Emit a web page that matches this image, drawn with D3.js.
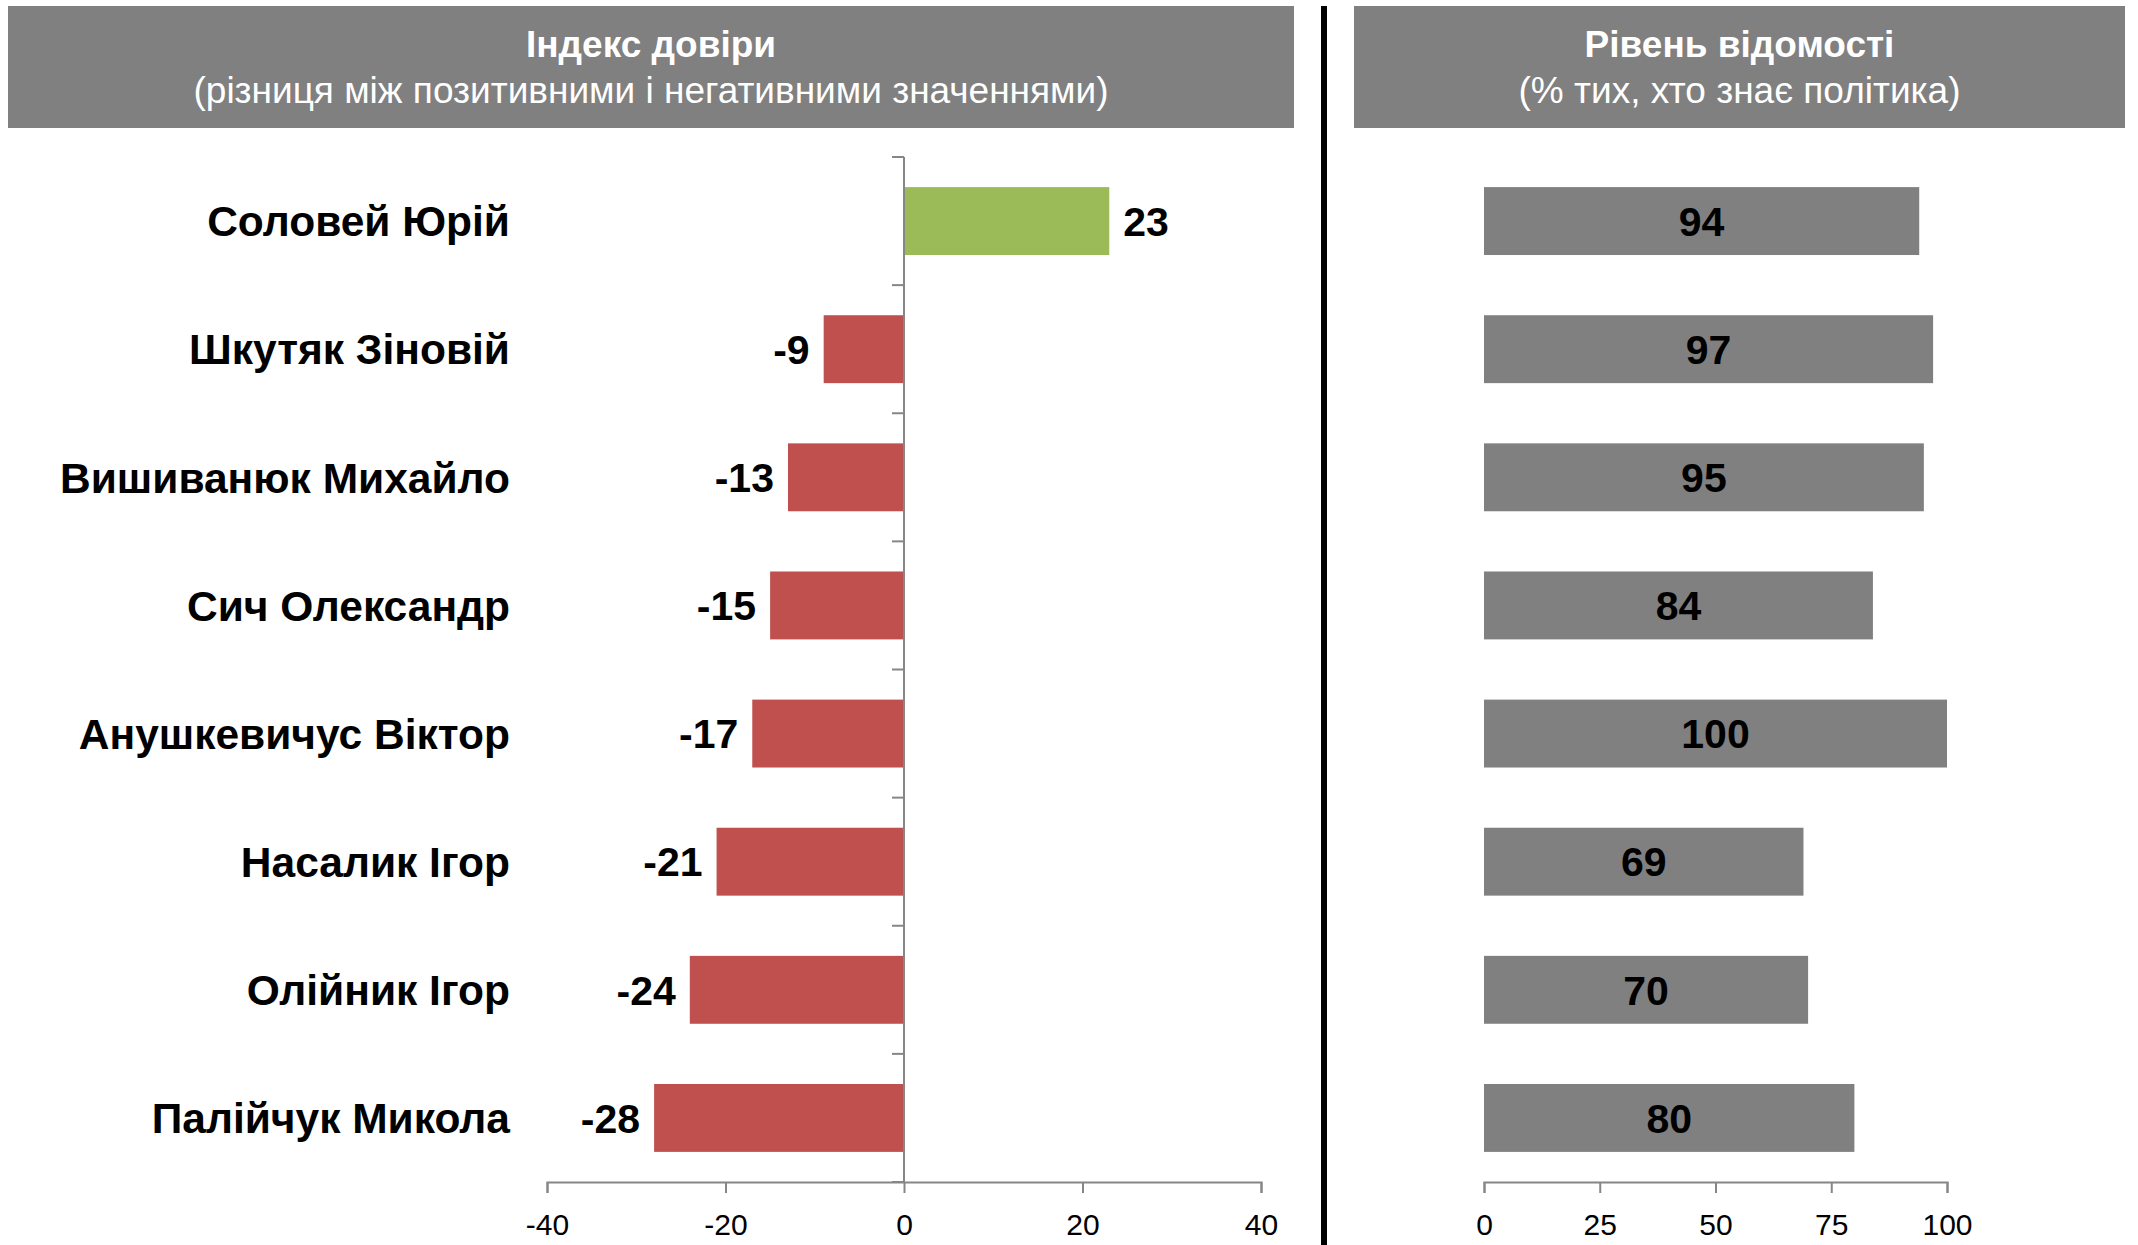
<!DOCTYPE html>
<html>
<head>
<meta charset="utf-8">
<script src="https://cdn.jsdelivr.net/npm/d3@7"></script>
<style>
  html, body { margin: 0; padding: 0; background: #fff; }
  svg { display: block; font-family: "Liberation Sans", Arial, sans-serif; }
</style>
</head>
<body>
<svg id="chart" width="2138" height="1245"></svg>
<script>
// data
var names = ["Соловей Юрій", "Шкутяк Зіновій", "Вишиванюк Михайло", "Сич Олександр",
             "Анушкевичус Віктор", "Насалик Ігор", "Олійник Ігор", "Палійчук Микола"];
var trustIndex = [23, -9, -13, -15, -17, -21, -24, -28];
var awareness = [94, 97, 95, 84, 100, 69, 70, 80];
var trustTicks = [-40, -20, 0, 20, 40];
var awareTicks = [0, 25, 50, 75, 100];
var titles = [
    ["Індекс довіри", "(різниця між позитивними і негативними значеннями)"],
    ["Рівень відомості", "(% тих, хто знає політика)"]
];

var svg = d3.select("#chart");
var axisColor = "#868686";
var labelSize = 41;

// headers
var headers = [{x0: 8, x1: 1294}, {x0: 1354, x1: 2125}];
headers.forEach(function(h, i){
    svg.append("rect").attr("x", h.x0).attr("y", 6)
        .attr("width", h.x1 - h.x0).attr("height", 122).attr("fill", "#808080");
    svg.append("text").attr("x", (h.x0 + h.x1) / 2).attr("y", 57)
        .attr("text-anchor", "middle").attr("fill", "#fff")
        .attr("font-size", 37).attr("font-weight", "bold").text(titles[i][0]);
    svg.append("text").attr("x", (h.x0 + h.x1) / 2).attr("y", 103)
        .attr("text-anchor", "middle").attr("fill", "#fff")
        .attr("font-size", 37).text(titles[i][1]);
});

// divider
svg.append("rect").attr("x", 1321).attr("y", 6).attr("width", 6).attr("height", 1239).attr("fill", "#000");

var y = d3.scaleBand().domain(names).range([157, 1182]).paddingInner(0.47).paddingOuter(0.235);

// left chart: trust index
var x1 = d3.scaleLinear().domain([-40, 40]).range([547, 1261]);

svg.append("g").selectAll("rect").data(names).enter().append("rect")
    .attr("x", function(d, i){ return Math.min(x1(0), x1(trustIndex[i])); })
    .attr("y", function(d){ return y(d); })
    .attr("width", function(d, i){ return Math.abs(x1(trustIndex[i]) - x1(0)); })
    .attr("height", y.bandwidth())
    .attr("fill", function(d, i){ return trustIndex[i] >= 0 ? "#9BBB59" : "#C0504D"; });

svg.append("g").selectAll("text").data(names).enter().append("text")
    .attr("x", function(d, i){ return trustIndex[i] >= 0 ? x1(trustIndex[i]) + 14 : x1(trustIndex[i]) - 14; })
    .attr("y", function(d){ return y(d) + y.bandwidth() / 2; })
    .attr("dy", "0.36em")
    .attr("text-anchor", function(d, i){ return trustIndex[i] >= 0 ? "start" : "end"; })
    .attr("font-size", labelSize).attr("font-weight", "bold")
    .text(function(d, i){ return trustIndex[i]; });

// category labels
svg.append("g").selectAll("text").data(names).enter().append("text")
    .attr("x", 510)
    .attr("y", function(d){ return y(d) + y.bandwidth() / 2; })
    .attr("dy", "0.36em").attr("text-anchor", "end")
    .attr("font-size", 42.5).attr("font-weight", "bold")
    .text(function(d){ return d; });

// vertical axis with category separators
var yEdges = d3.scaleLinear().domain([0, names.length]).range([157, 1182]);
var gy = svg.append("g");
gy.append("line").attr("x1", x1(0)).attr("x2", x1(0)).attr("y1", 157).attr("y2", 1182)
    .attr("stroke", axisColor).attr("stroke-width", 2);
gy.selectAll("line.sep").data(d3.range(names.length + 1)).enter().append("line")
    .attr("class", "sep")
    .attr("x1", x1(0) - 12).attr("x2", x1(0))
    .attr("y1", function(d){ return yEdges(d); }).attr("y2", function(d){ return yEdges(d); })
    .attr("stroke", axisColor).attr("stroke-width", 2);

function bottomAxis(scale, ticks){
    var g = svg.append("g").attr("transform", "translate(0,1182)")
        .call(d3.axisBottom(scale).tickValues(ticks).tickSize(11).tickSizeOuter(11).tickPadding(21)
            .tickFormat(function(d){ return String(d); }));
    g.select(".domain").attr("stroke", axisColor).attr("stroke-width", 2);
    g.selectAll(".tick line").attr("stroke", axisColor).attr("stroke-width", 2);
    g.selectAll(".tick text").attr("fill", "#000").attr("font-size", 30)
        .attr("font-family", "Liberation Sans, Arial, sans-serif");
    return g;
}
bottomAxis(x1, trustTicks);

// right chart: awareness
var x2 = d3.scaleLinear().domain([0, 100]).range([1484, 1947]);

svg.append("g").selectAll("rect").data(names).enter().append("rect")
    .attr("x", x2(0))
    .attr("y", function(d){ return y(d); })
    .attr("width", function(d, i){ return x2(awareness[i]) - x2(0); })
    .attr("height", y.bandwidth())
    .attr("fill", "#808080");

svg.append("g").selectAll("text").data(names).enter().append("text")
    .attr("x", function(d, i){ return (x2(0) + x2(awareness[i])) / 2; })
    .attr("y", function(d){ return y(d) + y.bandwidth() / 2; })
    .attr("dy", "0.36em").attr("text-anchor", "middle")
    .attr("font-size", labelSize).attr("font-weight", "bold")
    .text(function(d, i){ return awareness[i]; });

bottomAxis(x2, awareTicks);
</script>
</body>
</html>
